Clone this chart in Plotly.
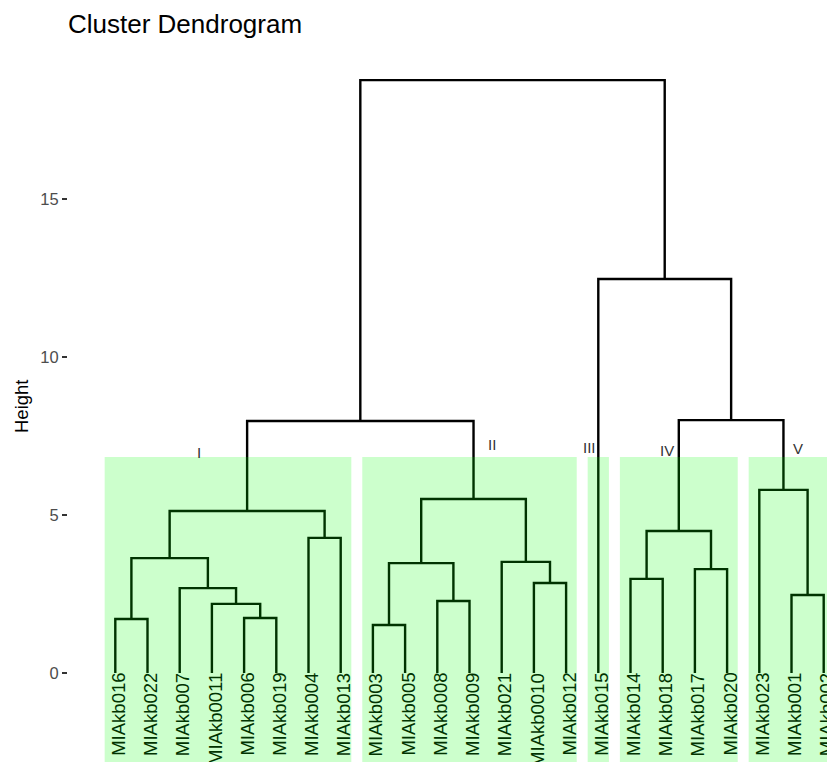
import plotly.graph_objects as go

# ---------------- data ----------------
leaf_labels = ["MIAkb016", "MIAkb022", "MIAkb007", "MIAkb0011", "MIAkb006", "MIAkb019",
               "MIAkb004", "MIAkb013", "MIAkb003", "MIAkb005", "MIAkb008", "MIAkb009",
               "MIAkb021", "MIAkb0010", "MIAkb012", "MIAkb015", "MIAkb014", "MIAkb018",
               "MIAkb017", "MIAkb020", "MIAkb023", "MIAkb001", "MIAkb002"]

# hclust-style merges: negative = leaf (1-based position in leaf order), positive = earlier merge
merge_a = [-9, -1, -5, -4, -11, -22, -3, -14, -17, -19, -7, 2, 1, -13, 9, 12, 13, -21, 16, 15, -16, 19]
merge_b = [-10, -2, -6, 3, -12, -23, 4, -15, -18, -20, -8, 7, 5, 8, 10, 11, 14, 6, 17, 18, 20, 21]
merge_height = [1.52, 1.71, 1.74, 2.19, 2.28, 2.47, 2.69, 2.85, 2.98, 3.29, 4.28, 3.64, 3.48,
                3.52, 4.50, 5.13, 5.51, 5.80, 7.98, 8.01, 12.48, 18.78]

cluster_names = ["I", "II", "III", "IV", "V"]
cluster_sizes = [8, 7, 1, 4, 3]

y_ticks = [0, 5, 10, 15]

# ---------------- build tree geometry ----------------
leaf_x = list(range(1, len(leaf_labels) + 1))
node_x, node_h = [], []


def child_pos(c):
    if c < 0:
        return leaf_x[-c - 1], 0.0
    return node_x[c - 1], node_h[c - 1]


xs, ys = [], []
for a, b, h in zip(merge_a, merge_b, merge_height):
    xa, ha = child_pos(a)
    xb, hb = child_pos(b)
    xs += [xa, xa, xb, xb, None]
    ys += [ha, h, h, hb, None]
    node_x.append((xa + xb) / 2)
    node_h.append(h)

fig = go.Figure()
fig.add_trace(go.Scatter(x=xs, y=ys, mode="lines",
                         line=dict(color="black", width=2.4),
                         hoverinfo="skip", showlegend=False))

FONT = "Liberation Sans, Arial"

# leaf labels
for x, lab in zip(leaf_x, leaf_labels):
    fig.add_annotation(x=x, y=0, text=lab, textangle=-90, showarrow=False,
                       xanchor="center", yanchor="top", xshift=3, yshift=2,
                       font=dict(family=FONT, size=18.5, color="#003300"))

# cluster rectangles (translucent green over the branches)
rect_pad_left, rect_pad_right = 0.33, 0.33
rect_top, rect_bottom = 6.84, -2.9
start = 1
cluster_bounds = []
for n in cluster_sizes:
    first, last = start, start + n - 1
    cluster_bounds.append((first, last))
    fig.add_shape(type="rect", xref="x", yref="y",
                  x0=first - rect_pad_left, x1=last + rect_pad_right,
                  y0=rect_bottom, y1=rect_top,
                  fillcolor="rgba(0,255,0,0.2)", line=dict(width=0), layer="above")
    start += n

# cluster labels (positions, relative to each cluster's first leaf)
label_dx = [2.6, 3.69, -0.26, 1.12, 1.2]
label_dy = [0.16, 0.39, 0.31, 0.22, 0.26]
for name, (first, last), dx, dy in zip(cluster_names, cluster_bounds, label_dx, label_dy):
    fig.add_annotation(x=first + dx, y=rect_top + dy, text=name, showarrow=False,
                       xanchor="center", yanchor="middle",
                       font=dict(family=FONT, size=15, color="#333333"))

W, H = 827, 762
panel_left, panel_top = 68, 52

# y-axis title
fig.add_annotation(xref="paper", yref="paper", x=0, y=0.5, xshift=21 - 68, text="Height",
                   textangle=-90, showarrow=False, xanchor="center", yanchor="middle",
                   font=dict(family=FONT, size=18.5, color="black"))

px_per_unit = 32.2
x_left = 1 - (115.3 - panel_left) / px_per_unit
x_right = x_left + (W - panel_left) / px_per_unit

fig.update_layout(
    width=W, height=H,
    margin=dict(l=panel_left, r=0, t=panel_top, b=0, autoexpand=False),
    paper_bgcolor="white", plot_bgcolor="white",
    title=dict(text="Cluster Dendrogram", x=panel_left / W, xanchor="left",
               y=1 - 24 / H, yanchor="middle", xref="container", yref="container",
               font=dict(family=FONT, size=26, color="black")),
    xaxis=dict(range=[x_left, x_right], visible=False, showgrid=False, zeroline=False),
    yaxis=dict(range=[(673 - 762) / 31.57, (673 - 52) / 31.57], tickvals=y_ticks,
               ticks="outside", ticklen=5, tickwidth=1.6, tickcolor="#333333",
               showgrid=False, zeroline=False, showline=False,
               tickfont=dict(family=FONT, size=16.5, color="#4D4D4D")),
)

fig.write_html("out.html", config={"displayModeBar": False},
               post_script="document.body.style.margin='0';document.body.style.overflow='hidden';")
